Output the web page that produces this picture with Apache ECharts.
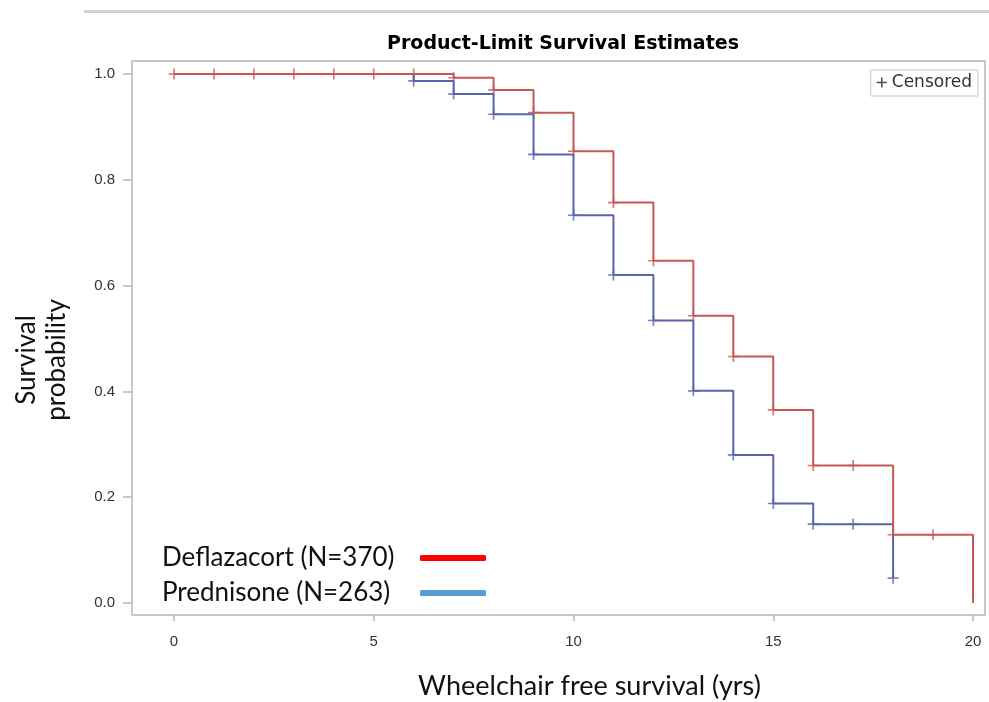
<!DOCTYPE html>
<html>
<head>
<meta charset="utf-8">
<script src="https://cdn.jsdelivr.net/npm/echarts@6/dist/echarts.min.js"></script>
<style>
  html, body { margin: 0; padding: 0; background: #fff; }
  #main { width: 989px; height: 702px; }
</style>
</head>
<body>
<div id="main"></div>
<script>
    // Kaplan-Meier step points (time, survival)
    var deflaTimes = [0, 7, 8, 9, 10, 11, 12, 13, 14, 15, 16, 18, 20];
    var deflaSurv = [1, 0.993, 0.970, 0.927, 0.854, 0.757, 0.647, 0.543, 0.466, 0.365, 0.260, 0.129, 0];
    var predTimes = [0, 6, 7, 8, 9, 10, 11, 12, 13, 14, 15, 16, 18];
    var predSurv = [1, 0.987, 0.962, 0.924, 0.848, 0.733, 0.620, 0.534, 0.401, 0.280, 0.188, 0.149, 0.047];

    // censor marks
    var deflaCensTimes = [0, 1, 2, 3, 4, 5, 6, 7, 8, 9, 10, 11, 12, 13, 14, 15, 16, 17, 18, 19];
    var deflaCensSurv = [1, 1, 1, 1, 1, 1, 1, 0.993, 0.970, 0.927, 0.854, 0.757, 0.647, 0.543, 0.466, 0.365, 0.260, 0.260, 0.129, 0.129];
    var predCensTimes = [6, 7, 8, 9, 10, 11, 12, 13, 14, 15, 16, 17, 18];
    var predCensSurv = [0.987, 0.962, 0.924, 0.848, 0.733, 0.620, 0.534, 0.401, 0.280, 0.188, 0.149, 0.149, 0.047];

    var xTicks = [0, 5, 10, 15, 20];
    var yTicks = [0, 0.2, 0.4, 0.6, 0.8, 1.0];

    var deflaName = 'Deflazacort (N=370)';
    var predName = 'Prednisone (N=263)';

    function pairs(xs, ys) {
        var out = [];
        for (var i = 0; i < xs.length; i++) {
            out.push([xs[i], ys[i]]);
        }
        return out;
    }

    var plus = 'path://M8.5,0H11.5V20H8.5Z M0,8.5H20V11.5H0Z';
    var sansFont = '"Liberation Sans", Arial, sans-serif';
    var humanFont = 'Lato, "Open Sans", sans-serif';

    var chart = echarts.init(document.getElementById('main'));
    var option = {
        animation: false,
        title: {
            text: 'Product-Limit Survival Estimates',
            left: 558,
            top: 30,
            textAlign: 'center',
            textStyle: {
                fontFamily: '"DejaVu Sans", sans-serif',
                fontWeight: 'bold',
                fontSize: 19,
                color: '#000'
            }
        },
        graphic: [{
            type: 'rect',
            shape: { x: 84, y: 10, width: 905, height: 3 },
            style: { fill: '#d2d2d2' },
            silent: true
        }],
        legend: [{
            // lower-left key, line sample to the right of the text
            orient: 'vertical',
            left: 157,
            top: 538,
            align: 'right',
            icon: 'roundRect',
            itemWidth: 66,
            itemHeight: 6,
            itemGap: 5,
            selectedMode: false,
            formatter: function(name) {
                return '{a|' + name + '}';
            },
            textStyle: {
                fontFamily: humanFont,
                fontSize: 26,
                color: '#111',
                lineHeight: 30,
                rich: {
                    a: {
                        width: 253,
                        align: 'left',
                        fontFamily: humanFont,
                        fontSize: 26,
                        lineHeight: 30,
                        color: '#111'
                    }
                }
            },
            data: [
                { name: deflaName, itemStyle: { color: '#ff0000' }, lineStyle: { color: '#ff0000' } },
                { name: predName, itemStyle: { color: '#5b9bd5' }, lineStyle: { color: '#5b9bd5' } }
            ]
        }, {
            // censored key
            right: 11,
            top: 70,
            padding: [4, 6, 5, 6],
            borderColor: '#c8c8c8',
            borderWidth: 1,
            backgroundColor: '#fff',
            itemWidth: 10,
            itemHeight: 10,
            itemGap: 4,
            selectedMode: false,
            textStyle: { fontFamily: '"DejaVu Sans", sans-serif', fontSize: 17, color: '#333' },
            data: [{ name: 'Censored', icon: plus, itemStyle: { color: '#222' } }]
        }],
        grid: {
            left: 132,
            top: 61,
            right: 4,
            bottom: 87,
            outerBoundsMode: 'none',
            show: true,
            borderColor: '#b8b8b8',
            borderWidth: 1.5
        },
        xAxis: {
            type: 'value',
            min: -1.051,
            max: 20.3,
            name: 'Wheelchair free survival (yrs)',
            nameLocation: 'middle',
            nameGap: 58,
            nameTextStyle: {
                fontFamily: humanFont,
                fontSize: 27,
                color: '#111',
                padding: [0, 0, 0, 62]
            },
            axisLine: { show: false, onZero: false },
            splitLine: { show: false },
            axisTick: {
                length: 6,
                lineStyle: { color: '#b8b8b8', width: 1.5 },
                customValues: xTicks
            },
            axisLabel: {
                margin: 19,
                fontFamily: sansFont,
                fontSize: 15,
                color: '#333',
                customValues: xTicks
            }
        },
        yAxis: {
            type: 'value',
            min: -0.0227,
            max: 1.0246,
            name: 'Survival\nprobability',
            nameLocation: 'middle',
            nameRotate: 90,
            nameGap: 60,
            nameTextStyle: {
                fontFamily: humanFont,
                fontSize: 26,
                color: '#111',
                lineHeight: 30,
                padding: [0, 44, 0, 0]
            },
            axisLine: { show: false, onZero: false },
            splitLine: { show: false },
            axisTick: {
                length: 9,
                lineStyle: { color: '#b8b8b8', width: 1.5 },
                customValues: yTicks
            },
            axisLabel: {
                margin: 17,
                fontFamily: sansFont,
                fontSize: 15,
                color: '#333',
                formatter: function(v) { return v.toFixed(1); },
                customValues: yTicks
            }
        },
        series: [{
            name: predName,
            type: 'line',
            step: 'end',
            showSymbol: false,
            lineStyle: { color: '#5a64aa', width: 2 },
            itemStyle: { color: '#5a64aa' },
            data: pairs(predTimes, predSurv)
        }, {
            name: deflaName,
            type: 'line',
            step: 'end',
            showSymbol: false,
            lineStyle: { color: '#c65858', width: 2 },
            itemStyle: { color: '#c65858' },
            data: pairs(deflaTimes, deflaSurv)
        }, {
            name: 'Censored',
            type: 'scatter',
            symbol: plus,
            symbolSize: 11,
            itemStyle: { color: '#5a64aa' },
            data: pairs(predCensTimes, predCensSurv)
        }, {
            name: 'Censored',
            type: 'scatter',
            symbol: plus,
            symbolSize: 11,
            itemStyle: { color: '#c65858' },
            data: pairs(deflaCensTimes, deflaCensSurv)
        }]
    };
    chart.setOption(option);
</script>
</body>
</html>
